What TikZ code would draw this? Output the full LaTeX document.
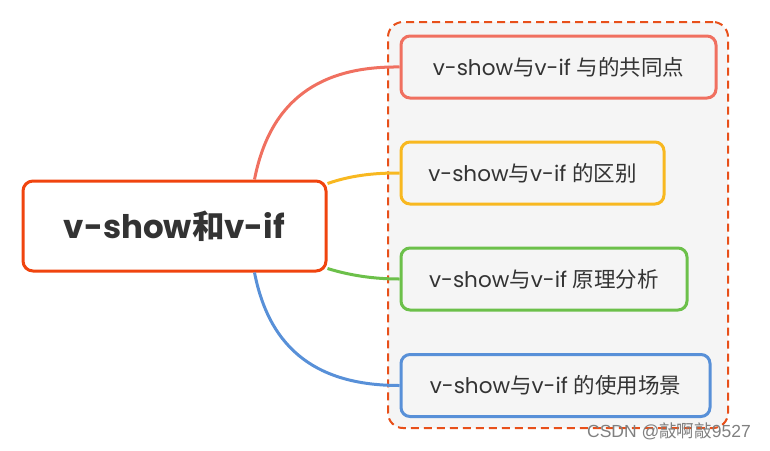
\documentclass[tikz,border=0pt]{standalone}
\usepackage{fontspec}
\newfontfamily\latf{Poppins}
\newfontfamily\wmf{Liberation Sans}
\newfontfamily\cjkf{Noto Sans CJK SC}
\definecolor{txt}{HTML}{333333}
\definecolor{mainc}{HTML}{F0440E}
\definecolor{grpc}{HTML}{E8501A}
\definecolor{grpbg}{HTML}{F5F5F5}
\definecolor{redc}{HTML}{F07060}
\definecolor{yelc}{HTML}{F8B820}
\definecolor{grnc}{HTML}{6CC04A}
\definecolor{bluc}{HTML}{5890D8}
\begin{document}
\begin{tikzpicture}[x=1pt,y=-1pt,
  mainbox/.style={draw=mainc,line width=3pt,rounded corners=10pt,fill=white,minimum width=303pt,minimum height=90pt,inner sep=0pt,text=txt,font=\fontsize{32.5}{38}\selectfont},
  childbox/.style={line width=3pt,rounded corners=9pt,fill=grpbg,minimum height=62pt,inner sep=0pt,text=txt,font=\fontsize{21.5}{26}\selectfont},
  link/.style={line width=3pt}
]
\useasboundingbox (0,0) rectangle (770,450);
\node[draw=grpc,dashed,dash pattern=on 8pt off 5pt,line width=2pt,rounded corners=15pt,fill=grpbg,minimum width=340pt,minimum height=406pt] (grp) at (558,225) {};
\node[mainbox] (main) at (174.5,226) {\bfseries\latf v-show\cjkf 和\latf v-if};
\node[childbox,draw=redc,minimum width=315pt] (c1) at (558.5,67) {\latf v-show\cjkf 与\latf v-if \cjkf 与的共同点};
\node[childbox,draw=yelc,minimum width=263pt] (c2) at (532.5,173) {\latf v-show\cjkf 与\latf v-if \cjkf 的区别};
\node[childbox,draw=grnc,minimum width=286pt] (c3) at (544,279) {\latf v-show\cjkf 与\latf v-if \cjkf 原理分析};
\node[childbox,draw=bluc,minimum width=309pt] (c4) at (555.5,385.5) {\latf v-show\cjkf 与\latf v-if \cjkf 的使用场景};
\coordinate (m1) at ([xshift=-73pt]main.north east);
\coordinate (m4) at ([xshift=-73pt]main.south east);
\coordinate (m2) at ([yshift=-4pt]main.north east);
\coordinate (m3) at ([yshift=4pt]main.south east);
\draw[link,redc] (m1) .. controls (270,100) and (320,66) .. (c1.west);
\draw[link,yelc] (m2) .. controls (355,174) and (380,173) .. (c2.west);
\draw[link,grnc] (m3) .. controls (355,277) and (380,279) .. (c3.west);
\draw[link,bluc] (m4) .. controls (270,352) and (320,385.5) .. (c4.west);
\node[text=black!50,font=\fontsize{17.5}{20}\selectfont] (wm) at (669,431) {\wmf CSDN @\cjkf 敲啊敲\wmf 9527};
\end{tikzpicture}
\end{document}
